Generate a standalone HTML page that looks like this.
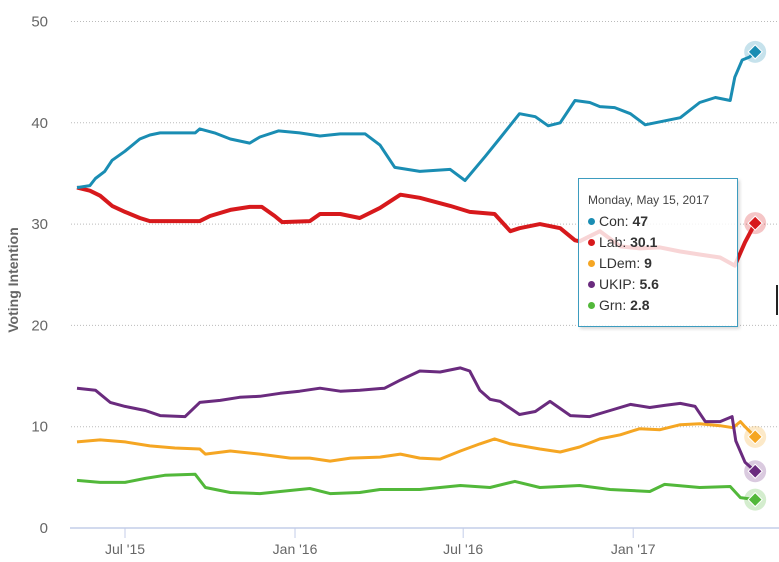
<!DOCTYPE html>
<html><head><meta charset="utf-8"><style>
body{margin:0;background:#fff;font-family:"Liberation Sans",sans-serif;}
svg{display:block}
#tip{position:absolute;left:578px;top:178px;width:158px;height:147px;border:1.5px solid #3c9cbf;background:rgba(255,255,255,0.82);box-shadow:2px 2px 3px rgba(0,0,0,0.15);font-size:14px;color:#333;}
#tip .d{font-size:12px;margin:14px 0 4px 9px;color:#444}
#tip .r{margin-left:9px;height:21px;line-height:21px}
#tip .dot{display:inline-block;width:7px;height:7px;border-radius:50%;margin-right:4px;vertical-align:1px}
</style></head><body>
<div style="position:relative;width:779px;height:562px;overflow:hidden">
<svg id="c" width="779" height="562"></svg>
<div id="tip">
<div class="d">Monday, May 15, 2017</div>
<div class="r"><span class="dot" style="background:#1a8db3"></span>Con: <b>47</b></div>
<div class="r"><span class="dot" style="background:#d7191c"></span>Lab: <b>30.1</b></div>
<div class="r"><span class="dot" style="background:#f5a623"></span>LDem: <b>9</b></div>
<div class="r"><span class="dot" style="background:#6a2b7e"></span>UKIP: <b>5.6</b></div>
<div class="r"><span class="dot" style="background:#52b83a"></span>Grn: <b>2.8</b></div>
</div>
<div style="position:absolute;left:776px;top:285px;width:2px;height:30px;background:#222"></div>
</div>
<script>
// days since 2015-07-01
const yTicks=[0,10,20,30,40,50];
const xTickDays=[0,184,366,550];
const xTickLabels=["Jul '15","Jan '16","Jul '16","Jan '17"];
const conDays=[-52,-38,-32,-22,-14,0,16,27,38,76,81,97,114,135,146,166,189,211,233,260,276,292,319,352,368,390,406,427,444,458,471,487,503,514,530,547,563,579,601,622,639,655,660,668,676,682];
const conVals=[33.6,33.8,34.5,35.2,36.3,37.2,38.4,38.8,39.0,39.0,39.4,39.0,38.4,38.0,38.6,39.2,39.0,38.7,38.9,38.9,37.8,35.6,35.2,35.4,34.3,36.7,38.5,40.9,40.6,39.7,40.0,42.2,42.0,41.6,41.5,40.9,39.8,40.1,40.5,42.0,42.5,42.2,44.5,46.2,46.5,47];
const labDays=[-52,-38,-27,-14,0,16,27,81,92,114,135,148,162,170,200,211,233,254,276,298,319,352,373,400,417,427,449,471,487,492,514,536,557,579,601,622,644,660,671,682];
const labVals=[33.6,33.3,32.8,31.8,31.2,30.6,30.3,30.3,30.8,31.4,31.7,31.7,30.8,30.2,30.3,31.0,31.0,30.6,31.6,32.9,32.6,31.8,31.2,31.0,29.3,29.6,30.0,29.6,28.4,28.3,29.3,27.8,27.6,27.7,27.3,27.0,26.7,25.9,28.2,30.1];
const ldemDays=[-52,-27,0,27,54,81,87,114,146,179,200,222,244,276,298,319,341,363,384,400,417,449,471,492,514,536,557,579,601,622,644,658,666,671,682];
const ldemVals=[8.5,8.7,8.5,8.1,7.9,7.8,7.3,7.6,7.3,6.9,6.9,6.6,6.9,7.0,7.3,6.9,6.8,7.6,8.3,8.8,8.3,7.8,7.5,8.0,8.8,9.2,9.8,9.7,10.2,10.3,10.1,9.9,10.5,10.0,9.0];
const ukipDays=[-52,-32,-16,0,22,38,65,81,103,124,146,168,189,211,233,254,281,298,319,341,363,373,384,395,406,427,444,460,482,503,525,547,568,584,601,617,628,644,657,661,671,682];
const ukipVals=[13.8,13.6,12.4,12.0,11.6,11.1,11.0,12.4,12.6,12.9,13.0,13.3,13.5,13.8,13.5,13.6,13.8,14.6,15.5,15.4,15.8,15.5,13.6,12.7,12.5,11.2,11.5,12.5,11.1,11.0,11.6,12.2,11.9,12.1,12.3,12.0,10.5,10.5,11.0,8.6,6.5,5.6];
const grnDays=[-52,-27,0,22,43,76,87,114,146,168,200,222,254,276,319,363,395,422,449,492,525,568,584,622,655,666,682];
const grnVals=[4.7,4.5,4.5,4.9,5.2,5.3,4.0,3.5,3.4,3.6,3.9,3.4,3.5,3.8,3.8,4.2,4.0,4.6,4.0,4.2,3.8,3.6,4.3,4.0,4.1,3.0,2.8];

const X=d=>125+0.924*d, Y=v=>528-10.13*v;
const NS="http://www.w3.org/2000/svg", svg=document.getElementById('c');
function mk(t,a,p){const e=document.createElementNS(NS,t);for(const k in a)e.setAttribute(k,a[k]);(p||svg).appendChild(e);return e;}
yTicks.forEach(v=>{
  if(v>0){const g=mk('line',{x1:71,x2:779,y1:Y(v),y2:Y(v),stroke:'#bbb','stroke-dasharray':'1,2'});
  
  }
  const t=mk('text',{x:48,y:Y(v)+5,'text-anchor':'end','font-size':15,fill:'#666'});t.textContent=v;
  
  
});
const ax=mk('line',{x1:70,x2:779,y1:528,y2:528,stroke:'#c4cde8','stroke-width':1.5});


xTickDays.forEach((d,i)=>{
  const l=mk('line',{x1:X(d),x2:X(d),y1:528,y2:538,stroke:'#c4cde8'});
  
  
  const t=mk('text',{x:X(d),y:554,'text-anchor':'middle','font-size':14,fill:'#666'});t.textContent=xTickLabels[i];
  
  
});
const yt=mk('text',{x:0,y:0,transform:'translate(18,280) rotate(-90)','text-anchor':'middle','font-size':14,'font-weight':'bold',fill:'#666'});
yt.textContent='Voting Intention';


const series=[['grn',grnDays,grnVals,'#52b83a',3],['ldem',ldemDays,ldemVals,'#f5a623',3],['ukip',ukipDays,ukipVals,'#6a2b7e',3],['lab',labDays,labVals,'#d7191c',4],['con',conDays,conVals,'#1a8db3',3]];
series.forEach(s=>{
  const pts=s[1].map((d,i)=>X(d).toFixed(1)+','+Y(s[2][i]).toFixed(1)).join(' ');
  const p=mk('polyline',{points:pts,fill:'none',stroke:s[3],'stroke-width':s[4],'stroke-linejoin':'round'});
  
  
  const n=s[1].length-1, cx=X(s[1][n]), cy=Y(s[2][n]);
  const h=mk('circle',{cx:cx,cy:cy,r:11,fill:s[3],opacity:0.25});
  
  
  const m=mk('path',{d:`M${cx},${cy-7}L${cx+7},${cy}L${cx},${cy+7}L${cx-7},${cy}Z`,fill:s[3],stroke:'#fff','stroke-width':1});
  
  
});
</script>
</body></html>
